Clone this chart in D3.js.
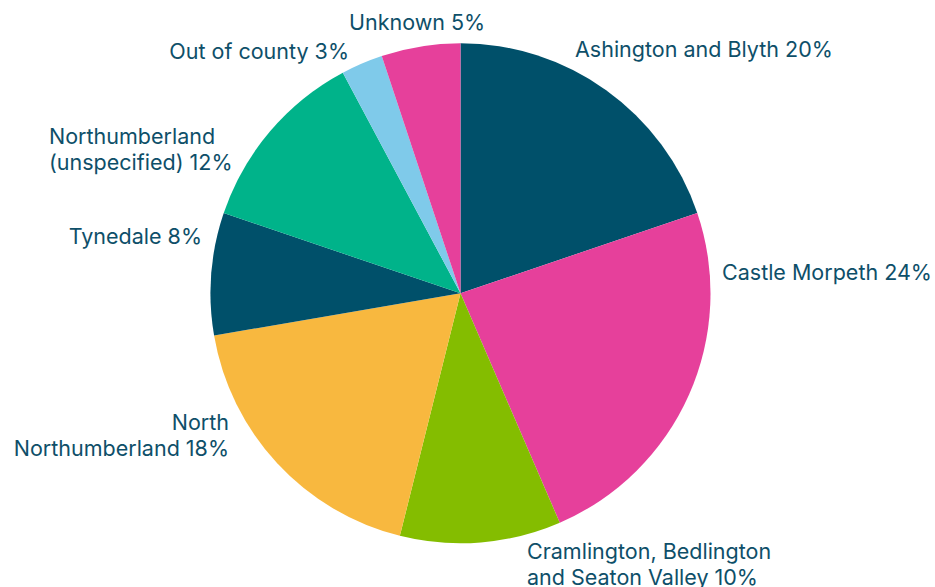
<!DOCTYPE html>
<html>
<head>
<meta charset="utf-8">
<script src="https://cdn.jsdelivr.net/npm/d3@7"></script>
<style>
  html, body { margin: 0; padding: 0; background: #ffffff; }
  svg { display: block; }
  text { font-family: "Inter", "Open Sans", sans-serif; font-size: 21.5px; fill: #0e4f69; }
</style>
</head>
<body>
<svg id="chart" width="935" height="587"></svg>
<script>
// ---- data ----
const categories = [
  "Ashington and Blyth",
  "Castle Morpeth",
  "Cramlington, Bedlington and Seaton Valley",
  "North Northumberland",
  "Tynedale",
  "Northumberland (unspecified)",
  "Out of county",
  "Unknown"
];
const values = [19.8, 23.7, 10.4, 18.4, 7.9, 12.0, 2.7, 5.1];
const colors = ["#00506a", "#e6409b", "#84bd00", "#f8b83f", "#00506a", "#00b38a", "#7fcaea", "#e6409b"];
// how each label is broken into lines
const labelLines = [
  ["Ashington and Blyth {p}"],
  ["Castle Morpeth {p}"],
  ["Cramlington, Bedlington", "and Seaton Valley {p}"],
  ["North", "Northumberland {p}"],
  ["Tynedale {p}"],
  ["Northumberland", "(unspecified) {p}"],
  ["Out of county {p}"],
  ["Unknown {p}"]
];

// ---- layout ----
const width = 935, height = 587;
const cx = 460.5, cy = 293.3, radius = 250;
// label placement (anchor point, text-anchor)
const labelLayout = [
  { x: 575, y: 57, anchor: "start" },
  { x: 722, y: 280, anchor: "start" },
  { x: 527, y: 559, anchor: "start" },
  { x: 229, y: 430, anchor: "end" },
  { x: 202, y: 244, anchor: "end" },
  { x: 49, y: 144, anchor: "start" },
  { x: 349, y: 59, anchor: "end" },
  { x: 349, y: 30, anchor: "start" }
];
const lineHeight = 25.5;

const svg = d3.select("#chart");
const total = d3.sum(values);
const data = categories.map((c, i) => ({ name: c, value: values[i], i }));

const pie = d3.pie().value(d => d.value).sort(null);
const arc = d3.arc().innerRadius(0).outerRadius(radius);

const g = svg.append("g").attr("transform", `translate(${cx},${cy})`);
g.selectAll("path")
  .data(pie(data))
  .join("path")
  .attr("d", arc)
  .attr("fill", d => colors[d.data.i]);

const labels = svg.append("g");
data.forEach((d, i) => {
  const pct = Math.round(d.value / total * 100) + "%";
  const L = labelLayout[i];
  const t = labels.append("text")
    .attr("x", L.x).attr("y", L.y)
    .attr("text-anchor", L.anchor);
  labelLines[i].forEach((line, k) => {
    t.append("tspan")
      .attr("x", L.x)
      .attr("y", L.y + k * lineHeight)
      .text(line.replace("{p}", pct));
  });
});
</script>
</body>
</html>
